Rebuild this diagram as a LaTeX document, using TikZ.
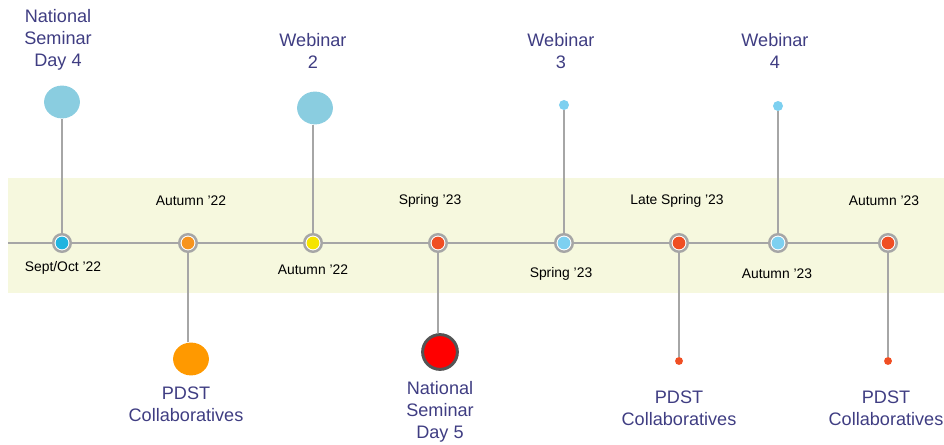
\documentclass[tikz,border=0pt]{standalone}
\usepackage{fontspec}
\setmainfont{Liberation Sans}
\usepackage{tikz}
\usetikzlibrary{shapes.geometric}

\definecolor{band}{HTML}{F6F8DE}
\definecolor{linegrey}{HTML}{A6A6A6}
\definecolor{navy}{HTML}{3F3D82}
\definecolor{dotcyan}{HTML}{20B4E0}
\definecolor{dotorange}{HTML}{F7941D}
\definecolor{dotyellow}{HTML}{F5E400}
\definecolor{dotred}{HTML}{F04E23}
\definecolor{dotblue}{HTML}{7DD0F0}
\definecolor{blobblue}{HTML}{8ACDE0}
\definecolor{bloborange}{HTML}{FF9900}

\begin{document}
\begin{tikzpicture}[x=0.02cm, y=-0.02cm,
                    stop/.style={circle, draw=linegrey, line width=1.4pt, fill=white,
                                 minimum size=10pt, inner sep=0pt,
                                 path picture={\fill[#1] (path picture bounding box.center) circle (3.6pt);}},
                    blob/.style={ellipse, fill=#1, minimum width=20.4pt,
                                 minimum height=18.7pt, inner sep=0pt},
                    dot/.style={circle, fill=#1, minimum size=5.7pt, inner sep=0pt},
                    axis/.style={draw=linegrey, line width=1.7pt},
                    stem/.style={draw=linegrey, line width=1.4pt},
                    date/.style={font=\fontsize{7.9}{9}\selectfont},
                    event/.style={align=center, text=navy, font=\fontsize{10.3}{12.5}\selectfont}]
    \useasboundingbox (0,0) rectangle (944,445);

    % background band
    \fill[band] (8,178) rectangle (944,293);

    % stops on the line
    \coordinate (start) at (8,243);
    \node[stop=dotcyan] (sept22) at (62,243) {};
    \node[stop=dotorange] (aut22a) at (188,243) {};
    \node[stop=dotyellow] (aut22b) at (313,243) {};
    \node[stop=dotred] (spr23a) at (438,243) {};
    \node[stop=dotblue] (spr23b) at (564,243) {};
    \node[stop=dotred] (late23) at (679,243) {};
    \node[stop=dotblue] (aut23a) at (778,243) {};
    \node[stop=dotred] (aut23b) at (888,243) {};

    % dates
    \node[date] (sept22T) at (63,268) {Sept/Oct '22};
    \node[date] (aut22aT) at (191,201) {Autumn '22};
    \node[date] (aut22bT) at (313,270) {Autumn '22};
    \node[date] (spr23aT) at (430,201) {Spring '23};
    \node[date] (spr23bT) at (561,274) {Spring '23};
    \node[date] (late23T) at (677,201) {Late Spring '23};
    \node[date] (aut23aT) at (777,274) {Autumn '23};
    \node[date] (aut23bT) at (884,201) {Autumn '23};

    % events above
    \node[blob=blobblue] (sem4) at (62,102) {};
    \node[blob=blobblue] (web2) at (315,108) {};
    \node[dot=dotblue] (web3) at (564,105) {};
    \node[dot=dotblue] (web4) at (778,106) {};
    \node[event] (sem4T) at (58,40) {National\\Seminar\\Day 4};
    \node[event] (web2T) at (313,51) {Webinar\\2};
    \node[event] (web3T) at (561,51) {Webinar\\3};
    \node[event] (web4T) at (775,51) {Webinar\\4};

    % events below
    \node[blob=bloborange] (pdst1) at (191,359) {};
    \node[circle, fill=red, draw=black!67, line width=1.7pt,
          minimum size=19.8pt, inner sep=0pt] (sem5) at (440,352) {};
    \node[dot=dotred, minimum size=4.5pt] (pdst2) at (679,361) {};
    \node[dot=dotred, minimum size=4.5pt] (pdst3) at (888,361) {};
    \node[event] (pdst1T) at (186,404) {PDST\\Collaboratives};
    \node[event] (sem5T) at (440,412) {National\\Seminar\\Day 5};
    \node[event] (pdst2T) at (679,408) {PDST\\Collaboratives};
    \node[event] (pdst3T) at (886,408) {PDST\\Collaboratives};

    % time line
    \draw[axis] (start) -- (sept22) (sept22) -- (aut22a) (aut22a) -- (aut22b)
        (aut22b) -- (spr23a) (spr23a) -- (spr23b) (spr23b) -- (late23)
        (late23) -- (aut23a) (aut23a) -- (aut23b);

    % stems
    \draw[stem] (sem4) -- (sept22);
    \draw[stem] (web2.south -| aut22b) -- (aut22b);
    \draw[stem] (web3) -- (spr23b);
    \draw[stem] (web4) -- (aut23a);
    \draw[stem] (aut22a) -- (aut22a |- pdst1.north);
    \draw[stem] (spr23a) -- (spr23a |- sem5.north);
    \draw[stem] (late23) -- (pdst2);
    \draw[stem] (aut23b) -- (pdst3);
\end{tikzpicture}
\end{document}
